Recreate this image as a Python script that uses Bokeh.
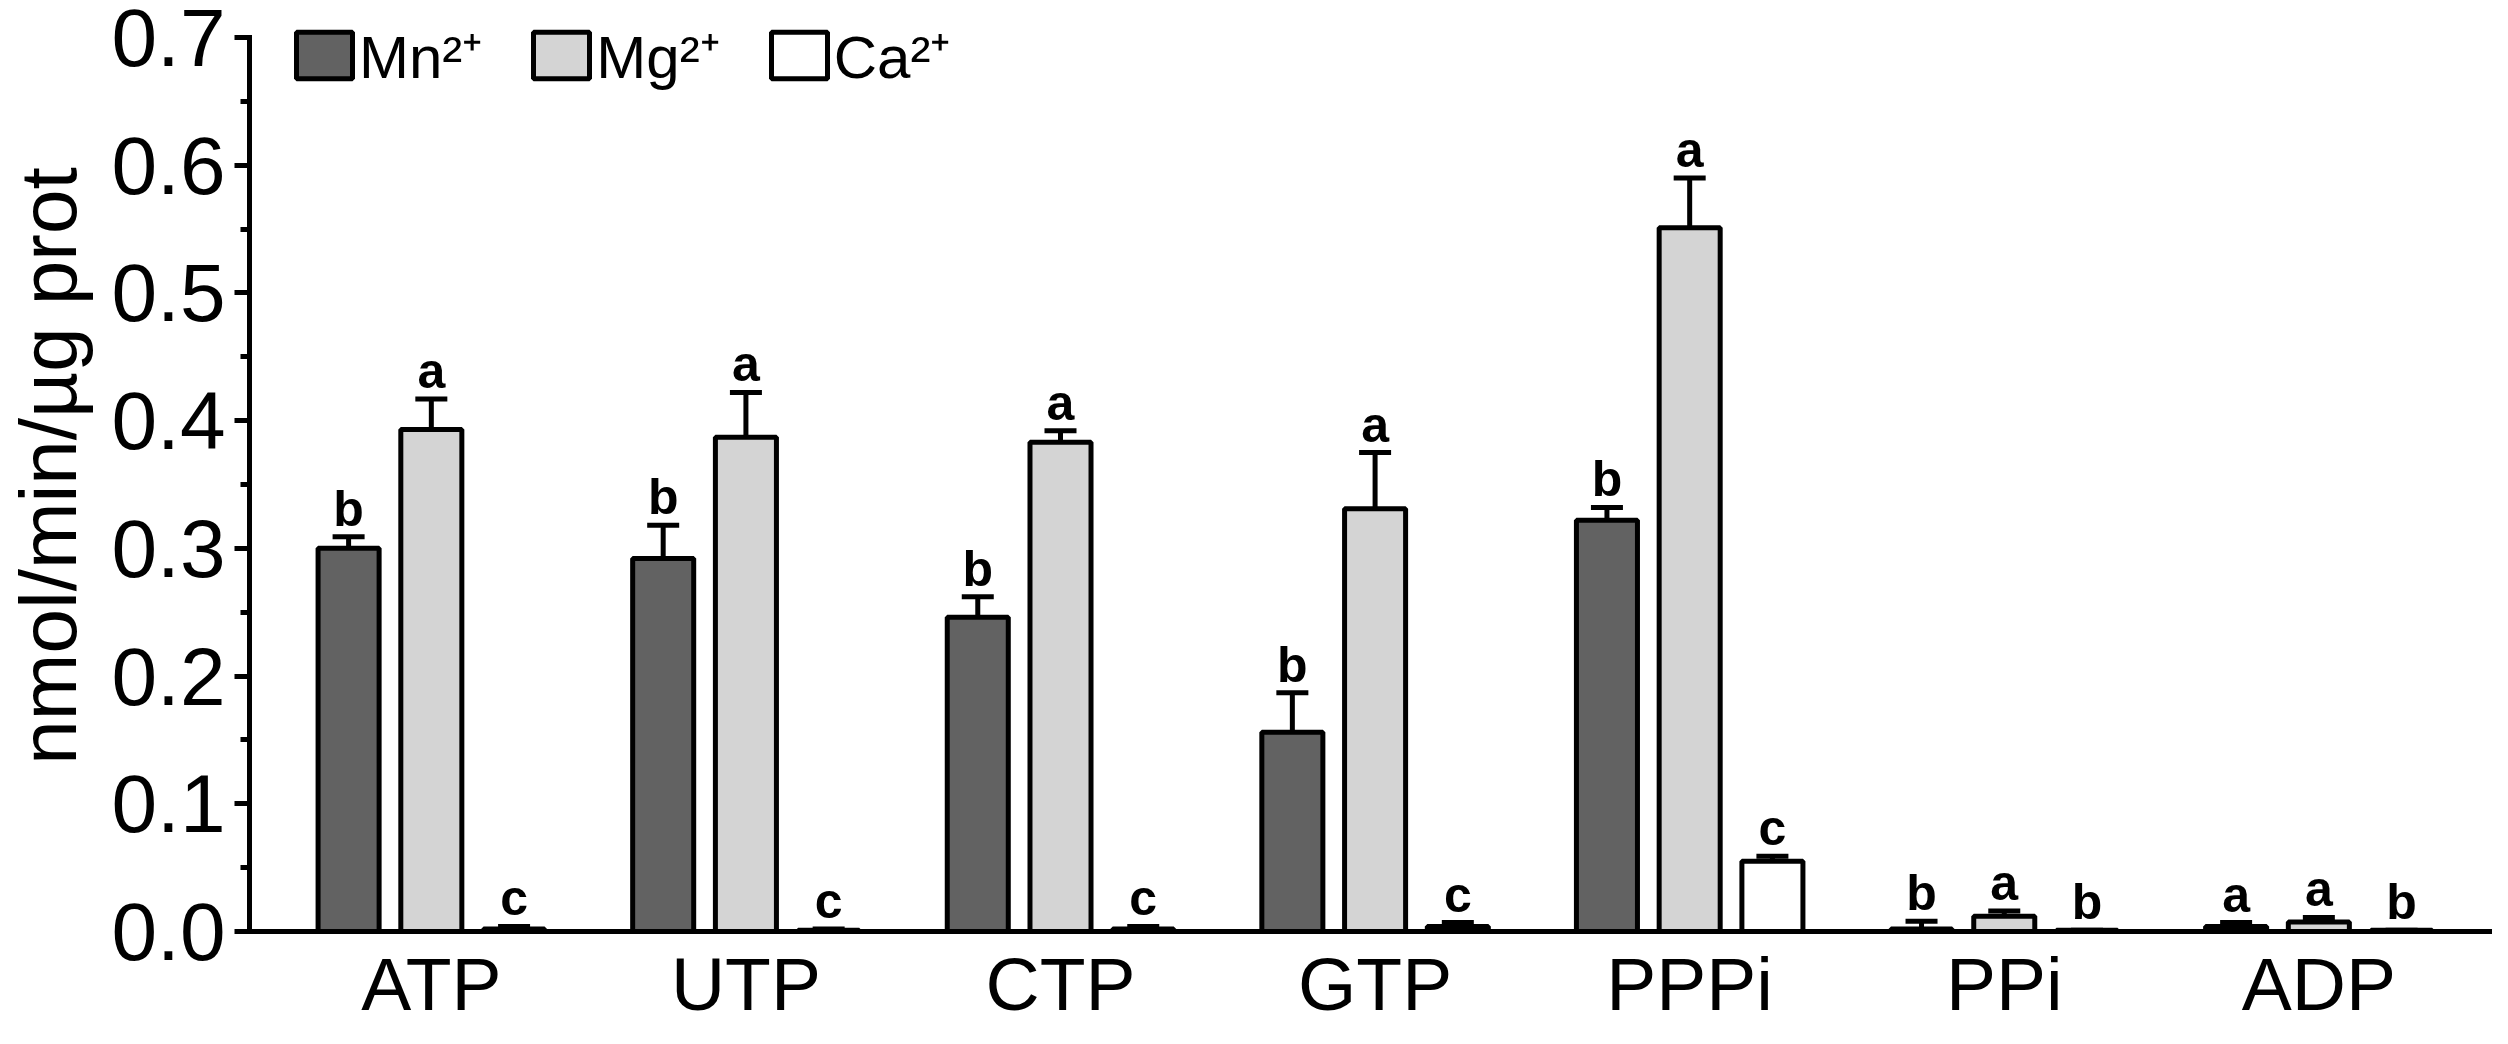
from bokeh.plotting import figure
from bokeh.models import (ColumnDataSource, Whisker, TeeHead, Legend, LegendItem,
                          FixedTicker, Range1d)
from bokeh.embed import file_html
from bokeh.resources import INLINE
from bokeh.core.properties import value

# ---- data ----
categories = ["ATP", "UTP", "CTP", "GTP", "PPPi", "PPi", "ADP"]
series_names = ["Mn²⁺", "Mg²⁺", "Ca²⁺"]
mn_vals = [0.300, 0.292, 0.246, 0.156, 0.322, 0.002, 0.004]
mn_err = [0.009, 0.026, 0.016, 0.031, 0.010, 0.006, 0.003]
mg_vals = [0.393, 0.387, 0.383, 0.331, 0.551, 0.012, 0.0075]
mg_err = [0.024, 0.035, 0.009, 0.044, 0.039, 0.004, 0.0035]
ca_vals = [0.002, 0.001, 0.002, 0.004, 0.055, 0.001, 0.001]
ca_err = [0.002, 0.001, 0.002, 0.003, 0.004, 0.0, 0.0]
mn_letters = ["b", "b", "b", "b", "b", "b", "a"]
mg_letters = ["a", "a", "a", "a", "a", "a", "a"]
ca_letters = ["c", "c", "c", "c", "c", "b", "b"]
y_ticks = [0.0, 0.1, 0.2, 0.3, 0.4, 0.5, 0.6, 0.7]
y_tick_labels = ["0.0", "0.1", "0.2", "0.3", "0.4", "0.5", "0.6", "0.7"]
y_minor = [0.05, 0.15, 0.25, 0.35, 0.45, 0.55, 0.65]
y_title = "nmol/min/µg prot"

colors = ["#626262", "#d4d4d4", "#ffffff"]
offsets = [-0.263, 0.0, 0.263]
bar_w = 0.194
FONT = "Liberation Sans"

# frame spans the full top of the canvas (legend lives inside it); the y axis
# itself is bounded to 0..0.7
p = figure(width=2492, height=1028, output_backend="svg", toolbar_location=None,
           x_range=Range1d(-0.578, 6.552), y_range=Range1d(0, 0.7289),
           min_border_left=246, min_border_right=0, min_border_top=0,
           min_border_bottom=95)
p.outline_line_color = None
p.grid.visible = False
p.background_fill_color = "white"
p.border_fill_color = "white"

idx = list(range(len(categories)))
renderers = []
for vals, errs, letters, col, off in [
        (mn_vals, mn_err, mn_letters, colors[0], offsets[0]),
        (mg_vals, mg_err, mg_letters, colors[1], offsets[1]),
        (ca_vals, ca_err, ca_letters, colors[2], offsets[2])]:
    src = ColumnDataSource(dict(
        xpos=[i + off for i in idx],
        top=vals,
        upper=[v + e for v, e in zip(vals, errs)],
        letter=letters,
    ))
    r = p.vbar(x="xpos", top="top", width=bar_w, source=src,
               fill_color=col, line_color="black", line_width=5)
    renderers.append(r)
    w = Whisker(base="xpos", lower="top", upper="upper", source=src,
                line_color="black", line_width=5,
                upper_head=TeeHead(size=32, line_width=5, line_color="black"),
                lower_head=None)
    p.add_layout(w)
    p.text(x="xpos", y="upper", text="letter", source=src,
           text_font=value(FONT), text_font_style="bold", text_font_size="50px",
           text_align="center", text_baseline="alphabetic", y_offset=-28,
           text_color="black")

# y axis
yax = p.yaxis[0]
yax.bounds = (0, 0.7)
yax.ticker = FixedTicker(ticks=y_ticks, minor_ticks=y_minor)
yax.major_label_overrides = {t: l for t, l in zip(y_ticks, y_tick_labels)}
yax.axis_line_width = 5
yax.axis_line_cap = "square"
yax.major_tick_line_width = 5
yax.minor_tick_line_width = 5
yax.major_tick_out = 15
yax.major_tick_in = 0
yax.minor_tick_out = 9
yax.minor_tick_in = 0
yax.major_label_text_font = FONT
yax.major_label_text_font_size = "82px"
yax.major_label_text_color = "black"
yax.major_label_standoff = 9
yax.axis_label = y_title
yax.axis_label_text_font = FONT
yax.axis_label_text_font_size = "80px"
yax.axis_label_text_font_style = "normal"
yax.axis_label_text_color = "black"
yax.axis_label_standoff = 16

# x axis
xax = p.xaxis[0]
xax.ticker = FixedTicker(ticks=idx)
xax.major_label_overrides = {i: c for i, c in zip(idx, categories)}
xax.axis_line_width = 5
xax.axis_line_cap = "square"
xax.major_tick_line_color = None
xax.minor_tick_line_color = None
xax.major_tick_out = 0
xax.major_tick_in = 0
xax.major_label_text_font = FONT
xax.major_label_text_font_size = "75px"
xax.major_label_text_color = "black"
xax.major_label_standoff = 10

legend = Legend(items=[LegendItem(label=n, renderers=[r]) for n, r in zip(series_names, renderers)],
                orientation="horizontal", location=(40, 835),
                glyph_width=70, glyph_height=58, label_standoff=0, spacing=44,
                padding=0, margin=0, border_line_color=None, background_fill_alpha=0,
                label_text_font=FONT, label_text_font_size="60px", label_text_color="black")
p.add_layout(legend)

open("out.html", "w").write(file_html(p, INLINE))
